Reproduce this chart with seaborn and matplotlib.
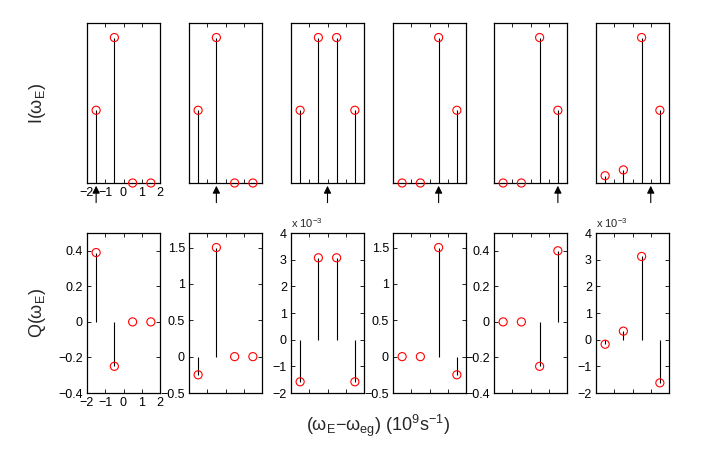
import matplotlib
matplotlib.use("Agg")
import matplotlib.pyplot as plt
import matplotlib.ticker as mticker
import seaborn as sns
import pandas as pd

# detuning grid and the six cases
omega = [-1.5, -0.5, 0.5, 1.5]
I_vals = [
    [0.5, 1.0, 0.0, 0.0],
    [0.5, 1.0, 0.0, 0.0],
    [0.5, 1.0, 1.0, 0.5],
    [0.0, 0.0, 1.0, 0.5],
    [0.0, 0.0, 1.0, 0.5],
    [0.05, 0.09, 1.0, 0.5],
]
Q_vals = [
    [0.39, -0.25, 0.0, 0.0],
    [-0.25, 1.5, 0.0, 0.0],
    [-1.58e-3, 3.07e-3, 3.07e-3, -1.58e-3],
    [0.0, 0.0, 1.5, -0.25],
    [0.0, 0.0, -0.25, 0.4],
    [-0.17e-3, 0.32e-3, 3.12e-3, -1.62e-3],
]
arrow_pos = [-1.5, -0.5, 0.0, 0.5, 1.5, 1.0]

q_ylims = [(-0.4, 0.5), (-0.5, 1.7), (-2e-3, 4e-3), (-0.5, 1.7), (-0.4, 0.5), (-2e-3, 4e-3)]
q_ticks = [
    [-0.4, -0.2, 0, 0.2, 0.4],
    [-0.5, 0, 0.5, 1, 1.5],
    [-2e-3, -1e-3, 0, 1e-3, 2e-3, 3e-3, 4e-3],
    [-0.5, 0, 0.5, 1, 1.5],
    [-0.4, -0.2, 0, 0.2, 0.4],
    [-2e-3, -1e-3, 0, 1e-3, 2e-3, 3e-3, 4e-3],
]
scaled = [False, False, True, False, False, True]

sns.set_style("white")
plt.rcParams['font.family'] = ['Liberation Sans', 'DejaVu Sans']
plt.rcParams['mathtext.default'] = 'regular'

fig = plt.figure(figsize=(7.27, 4.58), dpi=100)
W, H = 727.0, 458.0
lefts = [87, 189, 291, 393, 494, 596]
pw, ph = 73, 160


def stem(ax, x, y):
    ax.vlines(x, 0, y, color='k', lw=0.8)
    df = pd.DataFrame({'x': x, 'y': y})
    sns.scatterplot(data=df, x='x', y='y', ax=ax, marker='o', s=34,
                    facecolor='none', edgecolor='red', linewidth=0.8, zorder=3,
                    clip_on=False)
    ax.set_xlabel('')
    ax.set_ylabel('')


def frame(ax):
    for sp in ax.spines.values():
        sp.set_visible(True)
        sp.set_color('k')
        sp.set_linewidth(0.9)
    ax.tick_params(direction='in', bottom=True, left=True, top=True, right=True,
                   length=3, width=0.6, labelsize=9, pad=3, colors='k')
    ax.set_xlim(-2, 2)
    ax.set_xticks([-2, -1, 0, 1, 2])
    ax.xaxis.set_major_formatter(mticker.FuncFormatter(lambda v, p: f"{v:g}".replace('-', '\u2212')))


for i in range(6):
    # top row: intensity
    ax = fig.add_axes([lefts[i] / W, 1 - 183 / H, pw / W, ph / H])
    stem(ax, omega, I_vals[i])
    frame(ax)
    ax.set_ylim(0, 1.1)
    ax.set_yticks([])
    if i > 0:
        ax.set_xticklabels([])
    ax.annotate('', xy=(arrow_pos[i], 0.0), xycoords=('data', 'axes fraction'),
                xytext=(arrow_pos[i], -0.14), textcoords=('data', 'axes fraction'),
                arrowprops=dict(arrowstyle='-|>', color='k', lw=0.8, mutation_scale=11),
                annotation_clip=False)

    # bottom row: quadrature
    ax = fig.add_axes([lefts[i] / W, 1 - 393 / H, pw / W, ph / H])
    stem(ax, omega, Q_vals[i])
    frame(ax)
    ax.set_ylim(*q_ylims[i])
    ax.set_yticks(q_ticks[i])
    if scaled[i]:
        ax.yaxis.set_major_formatter(mticker.FuncFormatter(
            lambda v, p: f"{v * 1e3:g}".replace('-', '\u2212')))
        ax.text(0.0, 1.02, r'x 10$^{-3}$', transform=ax.transAxes, fontsize=8,
                ha='left', va='bottom')
    else:
        ax.yaxis.set_major_formatter(mticker.FuncFormatter(
            lambda v, p: f"{v:g}".replace('-', '\u2212')))
    if i > 0:
        ax.set_xticklabels([])

fig.text(38 / W, 1 - 103 / H, r'I($\omega_E$)', rotation=90, ha='center', va='center', fontsize=13)
fig.text(38 / W, 1 - 313 / H, r'Q($\omega_E$)', rotation=90, ha='center', va='center', fontsize=13)
fig.text(378 / W, 1 - 426 / H, r'($\omega_E$$-$$\omega_{eg}$) (10$^9$s$^{-1}$)',
         ha='center', va='center', fontsize=13)

fig.savefig('out.png', dpi=100)
